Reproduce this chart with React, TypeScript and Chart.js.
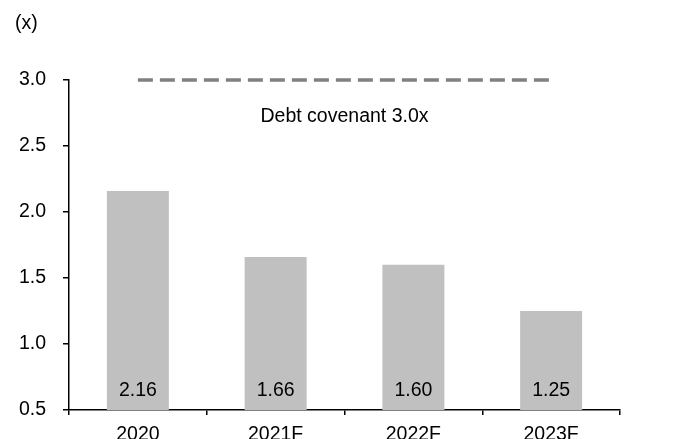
import React, { useEffect, useRef } from "react";
import { Chart, registerables } from "chart.js";

Chart.register(...registerables);

const categories = ["2020", "2021F", "2022F", "2023F"];
const ratioValues = [2.16, 1.66, 1.6, 1.25];
const covenantValues = [3.0, 3.0, 3.0, 3.0];
const valueLabels = ["2.16", "1.66", "1.60", "1.25"];
const unitLabel = "(x)";
const covenantLabel = "Debt covenant 3.0x";

const FONT = "'Liberation Sans', Arial, sans-serif";
const FSIZE = 19.5;

const annotationPlugin = {
  id: "annotations",
  afterDatasetsDraw(chart: any) {
    const ctx = chart.ctx;
    const xs = chart.scales.x;
    const ys = chart.scales.y;
    ctx.save();
    ctx.fillStyle = "#000";
    ctx.font = `${FSIZE}px ${FONT}`;
    // unit label
    ctx.textAlign = "left";
    ctx.textBaseline = "middle";
    ctx.fillText(unitLabel, 15, 24);
    // covenant label
    ctx.textAlign = "center";
    ctx.textBaseline = "alphabetic";
    ctx.fillText(covenantLabel, xs.getPixelForValue(1.5), ys.getPixelForValue(2.68));
    // value labels inside bars
    const meta = chart.getDatasetMeta(0);
    meta.data.forEach((bar: any, i: number) => {
      ctx.fillText(valueLabels[i], bar.x, ys.bottom - 14);
    });
    ctx.restore();
  },
};

export default function App() {
  const ref = useRef<HTMLCanvasElement>(null);
  useEffect(() => {
    if (!ref.current) return;
    const chart = new Chart(ref.current, {
      type: "bar",
      data: {
        labels: categories,
        datasets: [
          {
            type: "bar",
            data: ratioValues,
            backgroundColor: "#C0C0C0",
            borderWidth: 0,
            barPercentage: 0.45,
            categoryPercentage: 1,
            order: 2,
          },
          {
            type: "line",
            data: covenantValues,
            borderColor: "#808080",
            borderWidth: 3.5,
            borderDash: [15, 7],
            borderCapStyle: "butt",
            pointRadius: 0,
            fill: false,
            tension: 0,
            clip: false,
            order: 1,
          } as any,
        ],
      },
      options: {
        responsive: false,
        animation: false,
        layout: { padding: { top: 80, right: 63, bottom: 0, left: 0 } },
        plugins: {
          legend: { display: false },
          tooltip: { enabled: false },
          title: { display: false },
        },
        scales: {
          x: {
            offset: true,
            grid: {
              offset: true,
              drawOnChartArea: false,
              drawTicks: true,
              tickLength: 5,
              color: "#000",
              lineWidth: 1.5,
            },
            border: { display: true, color: "#000", width: 1.5 },
            ticks: {
              color: "#000",
              font: { family: FONT, size: FSIZE },
              padding: 8,
              maxRotation: 0,
            },
            afterFit(scale: any) {
              scale.height = 29;
            },
          },
          y: {
            min: 0.5,
            max: 3.0,
            grid: {
              drawOnChartArea: false,
              drawTicks: true,
              tickLength: 6,
              color: "#000",
              lineWidth: 1.5,
            },
            border: { display: true, color: "#000", width: 1.5 },
            ticks: {
              stepSize: 0.5,
              color: "#000",
              font: { family: FONT, size: FSIZE },
              padding: 17,
              callback: (v: any) => Number(v).toFixed(1),
            },
            afterFit(scale: any) {
              scale.width = 69;
            },
          },
        },
      },
      plugins: [annotationPlugin],
    });
    return () => chart.destroy();
  }, []);
  return (
    <div style={{ position: "absolute", left: 0, top: 0, width: 683, height: 439, background: "#fff" }}>
      <canvas ref={ref} width={683} height={439} style={{ width: 683, height: 439, display: "block" }} />
    </div>
  );
}
